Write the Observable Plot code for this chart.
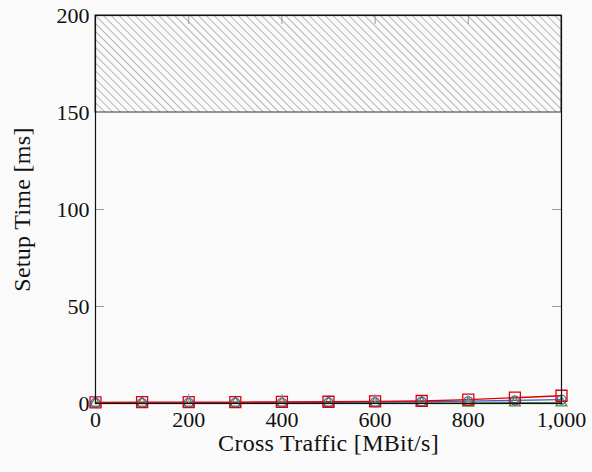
<!DOCTYPE html>
<html>
<head>
<meta charset="utf-8">
<script src="https://cdn.jsdelivr.net/npm/d3@7"></script>
<script src="https://cdn.jsdelivr.net/npm/@observablehq/plot@0.6"></script>
<style>
  html, body { margin: 0; padding: 0; background: #fafafa; }
  #chart svg { display: block; }
  .axis-title text { letter-spacing: 0.3px; }
</style>
</head>
<body>
<div id="chart"></div>
<script>
// Data
const crossTraffic = [0, 100, 200, 300, 400, 500, 600, 700, 800, 900, 1000];
const redSeries   = [0.6, 0.7, 0.7, 0.7, 0.8, 0.9, 1.1, 1.3, 2.0, 3.0, 4.0];
const blueSeries  = [0.3, 0.3, 0.4, 0.4, 0.5, 0.6, 0.7, 0.9, 1.2, 1.6, 2.0];
const greenSeries = [0.2, 0.2, 0.2, 0.2, 0.3, 0.3, 0.3, 0.3, 0.3, 0.4, 0.4];
const xTicks = [0, 200, 400, 600, 800, 1000];
const yTicks = [0, 50, 100, 150, 200];
const hatchBand = [{x1: 0, x2: 1000, y1: 150, y2: 200}];
const xTitle = ["Cross Traffic [MBit/s]"];
const yTitle = ["Setup Time [ms]"];

const series = [
  {name: "green", values: greenSeries, color: "#4f8f3a", symbol: "triangle", r: 4},
  {name: "blue", values: blueSeries, color: "#3c5ec6", symbol: "circle", r: 4.5},
  {name: "red", values: redSeries, color: "#e00000", symbol: "square", r: 6.2}
];
const rows = series.flatMap(s => crossTraffic.map((x, i) => ({series: s.name, x, y: s.values[i]})));

const W = 592, H = 472;
const mL = 95, mR = 31, mT = 15, mB = 69;
const plotH = H - mT - mB, plotW = W - mL - mR;
const tickLen = 9;
const font = "'Liberation Serif', 'DejaVu Serif', serif";

const marks = [
  Plot.rect(hatchBand, {x1: "x1", x2: "x2", y1: "y1", y2: "y2", fill: "url(#hatch)", stroke: "#333", strokeWidth: 1}),
  ...series.map(s => Plot.line(rows.filter(d => d.series === s.name), {x: "x", y: "y", stroke: s.color, strokeWidth: 1.4})),
  ...series.map(s => Plot.dot(rows.filter(d => d.series === s.name), {x: "x", y: "y", stroke: s.color, symbol: s.symbol, r: s.r, strokeWidth: 1.3, fill: "none"})),
  // inward ticks on all four sides
  Plot.tickX(xTicks, {x: d => d, insetTop: plotH - tickLen, stroke: "#999", strokeWidth: 1}),
  Plot.tickX(xTicks, {x: d => d, insetBottom: plotH - tickLen, stroke: "#999", strokeWidth: 1}),
  Plot.tickY(yTicks, {y: d => d, insetRight: plotW - tickLen, stroke: "#999", strokeWidth: 1}),
  Plot.tickY(yTicks, {y: d => d, insetLeft: plotW - tickLen, stroke: "#999", strokeWidth: 1}),
  Plot.frame({stroke: "#111", strokeWidth: 1.2}),
  Plot.axisX({ticks: xTicks, tickFormat: d3.format(","), tickSize: 0, tickPadding: 8, fontSize: 22, label: null}),
  Plot.axisY({ticks: yTicks, tickSize: 0, tickPadding: 6, fontSize: 22, label: null}),
  Plot.text(xTitle, {text: d => d, frameAnchor: "bottom", dy: 40, lineAnchor: "middle", textAnchor: "middle", fontSize: 24, fill: "#111", className: "axis-title"}),
  Plot.text(yTitle, {text: d => d, frameAnchor: "left", dx: -73, rotate: -90, lineAnchor: "middle", textAnchor: "middle", fontSize: 24, fill: "#111", className: "axis-title"})
];

const chart = Plot.plot({
  width: W, height: H,
  marginLeft: mL, marginRight: mR, marginTop: mT, marginBottom: mB,
  x: {domain: [0, 1000]},
  y: {domain: [0, 200]},
  style: {fontFamily: font, fontSize: "22px", background: "#fafafa", color: "#111"},
  marks
});

// hatch pattern definition (north-west lines)
const ns = "http://www.w3.org/2000/svg";
const defs = document.createElementNS(ns, "defs");
const pat = document.createElementNS(ns, "pattern");
pat.setAttribute("id", "hatch");
pat.setAttribute("patternUnits", "userSpaceOnUse");
pat.setAttribute("width", "5.6");
pat.setAttribute("height", "5.6");
pat.setAttribute("patternTransform", "rotate(-45)");
const bg = document.createElementNS(ns, "rect");
bg.setAttribute("width", "5.6"); bg.setAttribute("height", "5.6"); bg.setAttribute("fill", "#fafafa");
const ln = document.createElementNS(ns, "line");
ln.setAttribute("x1", "0"); ln.setAttribute("y1", "0"); ln.setAttribute("x2", "0"); ln.setAttribute("y2", "5.6");
ln.setAttribute("stroke", "#666"); ln.setAttribute("stroke-width", "0.9");
pat.appendChild(bg); pat.appendChild(ln); defs.appendChild(pat);
chart.insertBefore(defs, chart.firstChild);

document.getElementById("chart").appendChild(chart);
</script>
</body>
</html>
